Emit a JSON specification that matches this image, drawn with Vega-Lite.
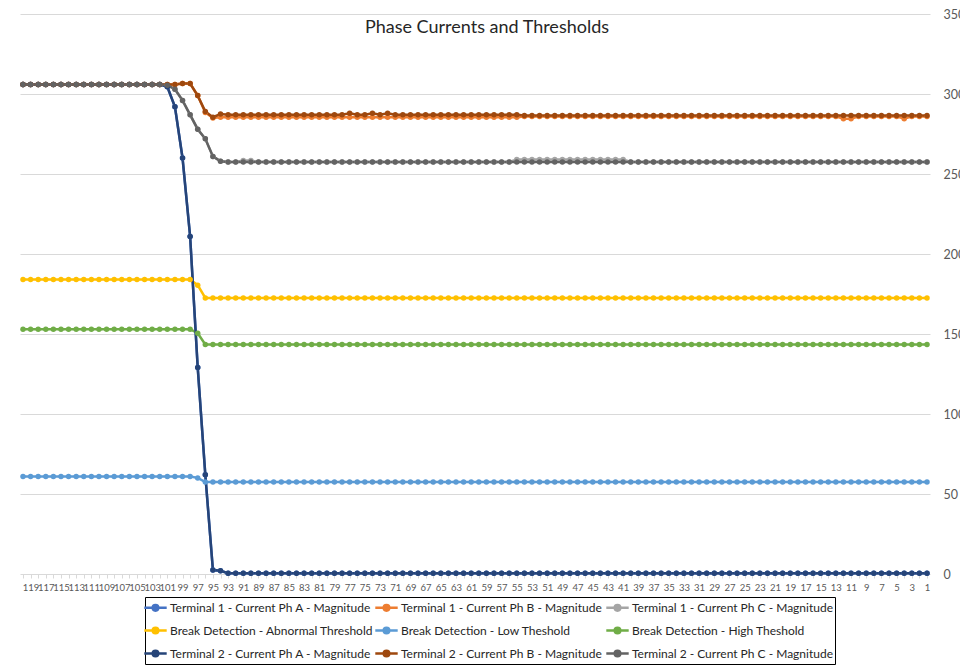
{
  "$schema": "https://vega.github.io/schema/vega-lite/v6.json",
  "width": 910,
  "height": 560,
  "autosize": {"type": "none"},
  "padding": {"left": 20, "top": 14, "right": 30, "bottom": 91},
  "background": "white",
  "title": {"text": "Phase Currents and Thresholds", "font": "Lato", "fontSize": 18, "fontWeight": "normal", "color": "#262626", "frame": "group", "anchor": "middle", "dx": 12, "baseline": "alphabetic", "offset": -43},
  "data": {"values": [
    {"c":120,"t1a":306,"t1b":306,"t1c":306,"bda":184,"bdl":61,"bdh":153,"t2a":306,"t2b":306,"t2c":306},
    {"c":119,"t1a":306,"t1b":306,"t1c":306,"bda":184,"bdl":61,"bdh":153,"t2a":306,"t2b":306,"t2c":306},
    {"c":118,"t1a":306,"t1b":306,"t1c":306,"bda":184,"bdl":61,"bdh":153,"t2a":306,"t2b":306,"t2c":306},
    {"c":117,"t1a":306,"t1b":306,"t1c":306,"bda":184,"bdl":61,"bdh":153,"t2a":306,"t2b":306,"t2c":306},
    {"c":116,"t1a":306,"t1b":306,"t1c":306,"bda":184,"bdl":61,"bdh":153,"t2a":306,"t2b":306,"t2c":306},
    {"c":115,"t1a":306,"t1b":306,"t1c":306,"bda":184,"bdl":61,"bdh":153,"t2a":306,"t2b":306,"t2c":306},
    {"c":114,"t1a":306,"t1b":306,"t1c":306,"bda":184,"bdl":61,"bdh":153,"t2a":306,"t2b":306,"t2c":306},
    {"c":113,"t1a":306,"t1b":306,"t1c":306,"bda":184,"bdl":61,"bdh":153,"t2a":306,"t2b":306,"t2c":306},
    {"c":112,"t1a":306,"t1b":306,"t1c":306,"bda":184,"bdl":61,"bdh":153,"t2a":306,"t2b":306,"t2c":306},
    {"c":111,"t1a":306,"t1b":306,"t1c":306,"bda":184,"bdl":61,"bdh":153,"t2a":306,"t2b":306,"t2c":306},
    {"c":110,"t1a":306,"t1b":306,"t1c":306,"bda":184,"bdl":61,"bdh":153,"t2a":306,"t2b":306,"t2c":306},
    {"c":109,"t1a":306,"t1b":306,"t1c":306,"bda":184,"bdl":61,"bdh":153,"t2a":306,"t2b":306,"t2c":306},
    {"c":108,"t1a":306,"t1b":306,"t1c":306,"bda":184,"bdl":61,"bdh":153,"t2a":306,"t2b":306,"t2c":306},
    {"c":107,"t1a":306,"t1b":306,"t1c":306,"bda":184,"bdl":61,"bdh":153,"t2a":306,"t2b":306,"t2c":306},
    {"c":106,"t1a":306,"t1b":306,"t1c":306,"bda":184,"bdl":61,"bdh":153,"t2a":306,"t2b":306,"t2c":306},
    {"c":105,"t1a":306,"t1b":306,"t1c":306,"bda":184,"bdl":61,"bdh":153,"t2a":306,"t2b":306,"t2c":306},
    {"c":104,"t1a":306,"t1b":306,"t1c":306,"bda":184,"bdl":61,"bdh":153,"t2a":306,"t2b":306,"t2c":306},
    {"c":103,"t1a":306,"t1b":306,"t1c":306,"bda":184,"bdl":61,"bdh":153,"t2a":306,"t2b":306,"t2c":306},
    {"c":102,"t1a":306,"t1b":306,"t1c":306,"bda":184,"bdl":61,"bdh":153,"t2a":306,"t2b":306,"t2c":306},
    {"c":101,"t1a":304.5,"t1b":306,"t1c":305.5,"bda":184,"bdl":61,"bdh":153,"t2a":304.5,"t2b":306,"t2c":305.5},
    {"c":100,"t1a":292,"t1b":306,"t1c":303,"bda":184,"bdl":61,"bdh":153,"t2a":292,"t2b":306,"t2c":303},
    {"c":99,"t1a":260,"t1b":306.5,"t1c":296,"bda":184,"bdl":61,"bdh":153,"t2a":260,"t2b":306.5,"t2c":296},
    {"c":98,"t1a":211,"t1b":306.5,"t1c":287,"bda":184,"bdl":61,"bdh":153,"t2a":211,"t2b":306.5,"t2c":287},
    {"c":97,"t1a":129,"t1b":299,"t1c":278,"bda":180.5,"bdl":60,"bdh":150.5,"t2a":129,"t2b":299,"t2c":278},
    {"c":96,"t1a":62,"t1b":288.5,"t1c":272,"bda":172.5,"bdl":57.5,"bdh":143.5,"t2a":62,"t2b":289,"t2c":272},
    {"c":95,"t1a":2.5,"t1b":285,"t1c":261,"bda":172.5,"bdl":57.5,"bdh":143.5,"t2a":2.5,"t2b":285.5,"t2c":261},
    {"c":94,"t1a":2,"t1b":285.5,"t1c":258,"bda":172.5,"bdl":57.5,"bdh":143.5,"t2a":2,"t2b":287.5,"t2c":258},
    {"c":93,"t1a":0.5,"t1b":285.5,"t1c":257.5,"bda":172.5,"bdl":57.5,"bdh":143.5,"t2a":0.5,"t2b":287,"t2c":257.5},
    {"c":92,"t1a":0.5,"t1b":285.5,"t1c":257.5,"bda":172.5,"bdl":57.5,"bdh":143.5,"t2a":0.5,"t2b":287,"t2c":257.5},
    {"c":91,"t1a":0.5,"t1b":285.5,"t1c":258.5,"bda":172.5,"bdl":57.5,"bdh":143.5,"t2a":0.5,"t2b":287,"t2c":257.5},
    {"c":90,"t1a":0.5,"t1b":285.5,"t1c":258.5,"bda":172.5,"bdl":57.5,"bdh":143.5,"t2a":0.5,"t2b":287,"t2c":257.5},
    {"c":89,"t1a":0.5,"t1b":285.5,"t1c":257.5,"bda":172.5,"bdl":57.5,"bdh":143.5,"t2a":0.5,"t2b":287,"t2c":257.5},
    {"c":88,"t1a":0.5,"t1b":285.5,"t1c":257.5,"bda":172.5,"bdl":57.5,"bdh":143.5,"t2a":0.5,"t2b":287,"t2c":257.5},
    {"c":87,"t1a":0.5,"t1b":285.5,"t1c":257.5,"bda":172.5,"bdl":57.5,"bdh":143.5,"t2a":0.5,"t2b":287,"t2c":257.5},
    {"c":86,"t1a":0.5,"t1b":285.5,"t1c":257.5,"bda":172.5,"bdl":57.5,"bdh":143.5,"t2a":0.5,"t2b":287,"t2c":257.5},
    {"c":85,"t1a":0.5,"t1b":285.5,"t1c":257.5,"bda":172.5,"bdl":57.5,"bdh":143.5,"t2a":0.5,"t2b":287,"t2c":257.5},
    {"c":84,"t1a":0.5,"t1b":285.5,"t1c":257.5,"bda":172.5,"bdl":57.5,"bdh":143.5,"t2a":0.5,"t2b":287,"t2c":257.5},
    {"c":83,"t1a":0.5,"t1b":285.5,"t1c":257.5,"bda":172.5,"bdl":57.5,"bdh":143.5,"t2a":0.5,"t2b":287,"t2c":257.5},
    {"c":82,"t1a":0.5,"t1b":285.5,"t1c":257.5,"bda":172.5,"bdl":57.5,"bdh":143.5,"t2a":0.5,"t2b":287,"t2c":257.5},
    {"c":81,"t1a":0.5,"t1b":285.5,"t1c":257.5,"bda":172.5,"bdl":57.5,"bdh":143.5,"t2a":0.5,"t2b":287,"t2c":257.5},
    {"c":80,"t1a":0.5,"t1b":285.5,"t1c":257.5,"bda":172.5,"bdl":57.5,"bdh":143.5,"t2a":0.5,"t2b":287,"t2c":257.5},
    {"c":79,"t1a":0.5,"t1b":285.5,"t1c":257.5,"bda":172.5,"bdl":57.5,"bdh":143.5,"t2a":0.5,"t2b":287,"t2c":257.5},
    {"c":78,"t1a":0.5,"t1b":285.5,"t1c":257.5,"bda":172.5,"bdl":57.5,"bdh":143.5,"t2a":0.5,"t2b":287,"t2c":257.5},
    {"c":77,"t1a":0.5,"t1b":285.5,"t1c":257.5,"bda":172.5,"bdl":57.5,"bdh":143.5,"t2a":0.5,"t2b":288,"t2c":257.5},
    {"c":76,"t1a":0.5,"t1b":285.5,"t1c":257.5,"bda":172.5,"bdl":57.5,"bdh":143.5,"t2a":0.5,"t2b":287,"t2c":257.5},
    {"c":75,"t1a":0.5,"t1b":285.5,"t1c":257.5,"bda":172.5,"bdl":57.5,"bdh":143.5,"t2a":0.5,"t2b":287,"t2c":257.5},
    {"c":74,"t1a":0.5,"t1b":285.5,"t1c":257.5,"bda":172.5,"bdl":57.5,"bdh":143.5,"t2a":0.5,"t2b":288,"t2c":257.5},
    {"c":73,"t1a":0.5,"t1b":285.5,"t1c":257.5,"bda":172.5,"bdl":57.5,"bdh":143.5,"t2a":0.5,"t2b":287,"t2c":257.5},
    {"c":72,"t1a":0.5,"t1b":285.5,"t1c":257.5,"bda":172.5,"bdl":57.5,"bdh":143.5,"t2a":0.5,"t2b":288,"t2c":257.5},
    {"c":71,"t1a":0.5,"t1b":285.5,"t1c":257.5,"bda":172.5,"bdl":57.5,"bdh":143.5,"t2a":0.5,"t2b":287,"t2c":257.5},
    {"c":70,"t1a":0.5,"t1b":285.5,"t1c":257.5,"bda":172.5,"bdl":57.5,"bdh":143.5,"t2a":0.5,"t2b":287,"t2c":257.5},
    {"c":69,"t1a":0.5,"t1b":285.5,"t1c":257.5,"bda":172.5,"bdl":57.5,"bdh":143.5,"t2a":0.5,"t2b":287,"t2c":257.5},
    {"c":68,"t1a":0.5,"t1b":285.5,"t1c":257.5,"bda":172.5,"bdl":57.5,"bdh":143.5,"t2a":0.5,"t2b":287,"t2c":257.5},
    {"c":67,"t1a":0.5,"t1b":285.5,"t1c":257.5,"bda":172.5,"bdl":57.5,"bdh":143.5,"t2a":0.5,"t2b":287,"t2c":257.5},
    {"c":66,"t1a":0.5,"t1b":285.5,"t1c":257.5,"bda":172.5,"bdl":57.5,"bdh":143.5,"t2a":0.5,"t2b":287,"t2c":257.5},
    {"c":65,"t1a":0.5,"t1b":285.5,"t1c":257.5,"bda":172.5,"bdl":57.5,"bdh":143.5,"t2a":0.5,"t2b":287,"t2c":257.5},
    {"c":64,"t1a":0.5,"t1b":285.5,"t1c":257.5,"bda":172.5,"bdl":57.5,"bdh":143.5,"t2a":0.5,"t2b":287,"t2c":257.5},
    {"c":63,"t1a":0.5,"t1b":285.5,"t1c":257.5,"bda":172.5,"bdl":57.5,"bdh":143.5,"t2a":0.5,"t2b":287,"t2c":257.5},
    {"c":62,"t1a":0.5,"t1b":285.5,"t1c":257.5,"bda":172.5,"bdl":57.5,"bdh":143.5,"t2a":0.5,"t2b":287,"t2c":257.5},
    {"c":61,"t1a":0.5,"t1b":285.5,"t1c":257.5,"bda":172.5,"bdl":57.5,"bdh":143.5,"t2a":0.5,"t2b":287,"t2c":257.5},
    {"c":60,"t1a":0.5,"t1b":285.5,"t1c":257.5,"bda":172.5,"bdl":57.5,"bdh":143.5,"t2a":0.5,"t2b":287,"t2c":257.5},
    {"c":59,"t1a":0.5,"t1b":285.5,"t1c":257.5,"bda":172.5,"bdl":57.5,"bdh":143.5,"t2a":0.5,"t2b":287,"t2c":257.5},
    {"c":58,"t1a":0.5,"t1b":285.5,"t1c":257.5,"bda":172.5,"bdl":57.5,"bdh":143.5,"t2a":0.5,"t2b":287,"t2c":257.5},
    {"c":57,"t1a":0.5,"t1b":285.5,"t1c":257.5,"bda":172.5,"bdl":57.5,"bdh":143.5,"t2a":0.5,"t2b":287,"t2c":257.5},
    {"c":56,"t1a":0.5,"t1b":285.5,"t1c":257.5,"bda":172.5,"bdl":57.5,"bdh":143.5,"t2a":0.5,"t2b":287,"t2c":257.5},
    {"c":55,"t1a":0.5,"t1b":285.5,"t1c":259,"bda":172.5,"bdl":57.5,"bdh":143.5,"t2a":0.5,"t2b":287,"t2c":257.5},
    {"c":54,"t1a":0.5,"t1b":286,"t1c":259,"bda":172.5,"bdl":57.5,"bdh":143.5,"t2a":0.5,"t2b":286.5,"t2c":257.5},
    {"c":53,"t1a":0.5,"t1b":286,"t1c":259,"bda":172.5,"bdl":57.5,"bdh":143.5,"t2a":0.5,"t2b":286.5,"t2c":257.5},
    {"c":52,"t1a":0.5,"t1b":286,"t1c":259,"bda":172.5,"bdl":57.5,"bdh":143.5,"t2a":0.5,"t2b":286.5,"t2c":257.5},
    {"c":51,"t1a":0.5,"t1b":286,"t1c":259,"bda":172.5,"bdl":57.5,"bdh":143.5,"t2a":0.5,"t2b":286.5,"t2c":257.5},
    {"c":50,"t1a":0.5,"t1b":286,"t1c":259,"bda":172.5,"bdl":57.5,"bdh":143.5,"t2a":0.5,"t2b":286.5,"t2c":257.5},
    {"c":49,"t1a":0.5,"t1b":286,"t1c":259,"bda":172.5,"bdl":57.5,"bdh":143.5,"t2a":0.5,"t2b":286.5,"t2c":257.5},
    {"c":48,"t1a":0.5,"t1b":286,"t1c":259,"bda":172.5,"bdl":57.5,"bdh":143.5,"t2a":0.5,"t2b":286.5,"t2c":257.5},
    {"c":47,"t1a":0.5,"t1b":286,"t1c":259,"bda":172.5,"bdl":57.5,"bdh":143.5,"t2a":0.5,"t2b":286.5,"t2c":257.5},
    {"c":46,"t1a":0.5,"t1b":286,"t1c":259,"bda":172.5,"bdl":57.5,"bdh":143.5,"t2a":0.5,"t2b":286.5,"t2c":257.5},
    {"c":45,"t1a":0.5,"t1b":286,"t1c":259,"bda":172.5,"bdl":57.5,"bdh":143.5,"t2a":0.5,"t2b":286.5,"t2c":257.5},
    {"c":44,"t1a":0.5,"t1b":286,"t1c":259,"bda":172.5,"bdl":57.5,"bdh":143.5,"t2a":0.5,"t2b":286.5,"t2c":257.5},
    {"c":43,"t1a":0.5,"t1b":286,"t1c":259,"bda":172.5,"bdl":57.5,"bdh":143.5,"t2a":0.5,"t2b":286.5,"t2c":257.5},
    {"c":42,"t1a":0.5,"t1b":286,"t1c":259,"bda":172.5,"bdl":57.5,"bdh":143.5,"t2a":0.5,"t2b":286.5,"t2c":257.5},
    {"c":41,"t1a":0.5,"t1b":286,"t1c":259,"bda":172.5,"bdl":57.5,"bdh":143.5,"t2a":0.5,"t2b":286.5,"t2c":257.5},
    {"c":40,"t1a":0.5,"t1b":286,"t1c":257.5,"bda":172.5,"bdl":57.5,"bdh":143.5,"t2a":0.5,"t2b":286.5,"t2c":257.5},
    {"c":39,"t1a":0.5,"t1b":286,"t1c":257.5,"bda":172.5,"bdl":57.5,"bdh":143.5,"t2a":0.5,"t2b":286.5,"t2c":257.5},
    {"c":38,"t1a":0.5,"t1b":286,"t1c":257.5,"bda":172.5,"bdl":57.5,"bdh":143.5,"t2a":0.5,"t2b":286.5,"t2c":257.5},
    {"c":37,"t1a":0.5,"t1b":286,"t1c":257.5,"bda":172.5,"bdl":57.5,"bdh":143.5,"t2a":0.5,"t2b":286.5,"t2c":257.5},
    {"c":36,"t1a":0.5,"t1b":286,"t1c":257.5,"bda":172.5,"bdl":57.5,"bdh":143.5,"t2a":0.5,"t2b":286.5,"t2c":257.5},
    {"c":35,"t1a":0.5,"t1b":286,"t1c":257.5,"bda":172.5,"bdl":57.5,"bdh":143.5,"t2a":0.5,"t2b":286.5,"t2c":257.5},
    {"c":34,"t1a":0.5,"t1b":286,"t1c":257.5,"bda":172.5,"bdl":57.5,"bdh":143.5,"t2a":0.5,"t2b":286.5,"t2c":257.5},
    {"c":33,"t1a":0.5,"t1b":286,"t1c":257.5,"bda":172.5,"bdl":57.5,"bdh":143.5,"t2a":0.5,"t2b":286.5,"t2c":257.5},
    {"c":32,"t1a":0.5,"t1b":286,"t1c":257.5,"bda":172.5,"bdl":57.5,"bdh":143.5,"t2a":0.5,"t2b":286.5,"t2c":257.5},
    {"c":31,"t1a":0.5,"t1b":286,"t1c":257.5,"bda":172.5,"bdl":57.5,"bdh":143.5,"t2a":0.5,"t2b":286.5,"t2c":257.5},
    {"c":30,"t1a":0.5,"t1b":286,"t1c":257.5,"bda":172.5,"bdl":57.5,"bdh":143.5,"t2a":0.5,"t2b":286.5,"t2c":257.5},
    {"c":29,"t1a":0.5,"t1b":286,"t1c":257.5,"bda":172.5,"bdl":57.5,"bdh":143.5,"t2a":0.5,"t2b":286.5,"t2c":257.5},
    {"c":28,"t1a":0.5,"t1b":286,"t1c":257.5,"bda":172.5,"bdl":57.5,"bdh":143.5,"t2a":0.5,"t2b":286.5,"t2c":257.5},
    {"c":27,"t1a":0.5,"t1b":286,"t1c":257.5,"bda":172.5,"bdl":57.5,"bdh":143.5,"t2a":0.5,"t2b":286.5,"t2c":257.5},
    {"c":26,"t1a":0.5,"t1b":286,"t1c":257.5,"bda":172.5,"bdl":57.5,"bdh":143.5,"t2a":0.5,"t2b":286.5,"t2c":257.5},
    {"c":25,"t1a":0.5,"t1b":286,"t1c":257.5,"bda":172.5,"bdl":57.5,"bdh":143.5,"t2a":0.5,"t2b":286.5,"t2c":257.5},
    {"c":24,"t1a":0.5,"t1b":286,"t1c":257.5,"bda":172.5,"bdl":57.5,"bdh":143.5,"t2a":0.5,"t2b":286.5,"t2c":257.5},
    {"c":23,"t1a":0.5,"t1b":286,"t1c":257.5,"bda":172.5,"bdl":57.5,"bdh":143.5,"t2a":0.5,"t2b":286.5,"t2c":257.5},
    {"c":22,"t1a":0.5,"t1b":286,"t1c":257.5,"bda":172.5,"bdl":57.5,"bdh":143.5,"t2a":0.5,"t2b":286.5,"t2c":257.5},
    {"c":21,"t1a":0.5,"t1b":286,"t1c":257.5,"bda":172.5,"bdl":57.5,"bdh":143.5,"t2a":0.5,"t2b":286.5,"t2c":257.5},
    {"c":20,"t1a":0.5,"t1b":286,"t1c":257.5,"bda":172.5,"bdl":57.5,"bdh":143.5,"t2a":0.5,"t2b":286.5,"t2c":257.5},
    {"c":19,"t1a":0.5,"t1b":286,"t1c":257.5,"bda":172.5,"bdl":57.5,"bdh":143.5,"t2a":0.5,"t2b":286.5,"t2c":257.5},
    {"c":18,"t1a":0.5,"t1b":286,"t1c":257.5,"bda":172.5,"bdl":57.5,"bdh":143.5,"t2a":0.5,"t2b":286.5,"t2c":257.5},
    {"c":17,"t1a":0.5,"t1b":286,"t1c":257.5,"bda":172.5,"bdl":57.5,"bdh":143.5,"t2a":0.5,"t2b":286.5,"t2c":257.5},
    {"c":16,"t1a":0.5,"t1b":286,"t1c":257.5,"bda":172.5,"bdl":57.5,"bdh":143.5,"t2a":0.5,"t2b":286.5,"t2c":257.5},
    {"c":15,"t1a":0.5,"t1b":286,"t1c":257.5,"bda":172.5,"bdl":57.5,"bdh":143.5,"t2a":0.5,"t2b":286.5,"t2c":257.5},
    {"c":14,"t1a":0.5,"t1b":286,"t1c":257.5,"bda":172.5,"bdl":57.5,"bdh":143.5,"t2a":0.5,"t2b":286.5,"t2c":257.5},
    {"c":13,"t1a":0.5,"t1b":286,"t1c":257.5,"bda":172.5,"bdl":57.5,"bdh":143.5,"t2a":0.5,"t2b":286.5,"t2c":257.5},
    {"c":12,"t1a":0.5,"t1b":284.5,"t1c":257.5,"bda":172.5,"bdl":57.5,"bdh":143.5,"t2a":0.5,"t2b":286.5,"t2c":257.5},
    {"c":11,"t1a":0.5,"t1b":284.5,"t1c":257.5,"bda":172.5,"bdl":57.5,"bdh":143.5,"t2a":0.5,"t2b":286.5,"t2c":257.5},
    {"c":10,"t1a":0.5,"t1b":286,"t1c":257.5,"bda":172.5,"bdl":57.5,"bdh":143.5,"t2a":0.5,"t2b":286.5,"t2c":257.5},
    {"c":9,"t1a":0.5,"t1b":286,"t1c":257.5,"bda":172.5,"bdl":57.5,"bdh":143.5,"t2a":0.5,"t2b":286.5,"t2c":257.5},
    {"c":8,"t1a":0.5,"t1b":286,"t1c":257.5,"bda":172.5,"bdl":57.5,"bdh":143.5,"t2a":0.5,"t2b":286.5,"t2c":257.5},
    {"c":7,"t1a":0.5,"t1b":286,"t1c":257.5,"bda":172.5,"bdl":57.5,"bdh":143.5,"t2a":0.5,"t2b":286.5,"t2c":257.5},
    {"c":6,"t1a":0.5,"t1b":286,"t1c":257.5,"bda":172.5,"bdl":57.5,"bdh":143.5,"t2a":0.5,"t2b":286.5,"t2c":257.5},
    {"c":5,"t1a":0.5,"t1b":286,"t1c":257.5,"bda":172.5,"bdl":57.5,"bdh":143.5,"t2a":0.5,"t2b":286.5,"t2c":257.5},
    {"c":4,"t1a":0.5,"t1b":284.5,"t1c":257.5,"bda":172.5,"bdl":57.5,"bdh":143.5,"t2a":0.5,"t2b":286.5,"t2c":257.5},
    {"c":3,"t1a":0.5,"t1b":286,"t1c":257.5,"bda":172.5,"bdl":57.5,"bdh":143.5,"t2a":0.5,"t2b":286.5,"t2c":257.5},
    {"c":2,"t1a":0.5,"t1b":286,"t1c":257.5,"bda":172.5,"bdl":57.5,"bdh":143.5,"t2a":0.5,"t2b":286.5,"t2c":257.5},
    {"c":1,"t1a":0.5,"t1b":286,"t1c":257.5,"bda":172.5,"bdl":57.5,"bdh":143.5,"t2a":0.5,"t2b":286.5,"t2c":257.5}
  ]},
  "transform": [
    {"fold": ["t1a","t1b","t1c","bda","bdl","bdh","t2a","t2b","t2c"], "as": ["series","value"]}
  ],
  "mark": {"type": "line", "strokeWidth": 2.5, "point": {"filled": true, "size": 30}},
  "encoding": {
    "x": {
      "field": "c", "type": "quantitative",
      "scale": {"domain": [1,120], "reverse": true, "nice": false, "zero": false, "padding": 3},
      "axis": {
        "title": null, "grid": false, "domain": false,
        "values": [1,2,3,4,5,6,7,8,9,10,11,12,13,14,15,16,17,18,19,20,21,22,23,24,25,26,27,28,29,30,31,32,33,34,35,36,37,38,39,40,41,42,43,44,45,46,47,48,49,50,51,52,53,54,55,56,57,58,59,60,61,62,63,64,65,66,67,68,69,70,71,72,73,74,75,76,77,78,79,80,81,82,83,84,85,86,87,88,89,90,91,92,93,94,95,96,97,98,99,100,101,102,103,104,105,106,107,108,109,110,111,112,113,114,115,116,117,118,119,120],
        "labelExpr": "datum.value % 2 == 1 ? datum.label : ''",
        "labelOverlap": false, "labelAngle": 0, "labelFlush": false,
        "labelFont": "Lato", "labelFontSize": 9.5, "labelColor": "#595959", "labelPadding": 4,
        "tickColor": "#D9D9D9", "tickSize": 4, "tickWidth": 1
      }
    },
    "y": {
      "field": "value", "type": "quantitative",
      "scale": {"domain": [0,350], "nice": false},
      "axis": {
        "title": null, "orient": "right", "values": [0,50,100,150,200,250,300,350],
        "grid": true, "gridColor": "#D9D9D9", "gridWidth": 1,
        "domain": false, "ticks": false, "labelPadding": 13,
        "labelFont": "Lato", "labelFontSize": 12.5, "labelColor": "#595959"
      }
    },
    "color": {
      "field": "series", "type": "nominal",
      "scale": {
        "domain": ["t1a","t1b","t1c","bda","bdl","bdh","t2a","t2b","t2c"],
        "range": ["#4472C4","#ED7D31","#A5A5A5","#FFC000","#5B9BD5","#70AD47","#264478","#9E480E","#636363"]
      },
      "legend": {
        "title": null, "orient": "none", "legendX": 125, "legendY": 583,
        "direction": "horizontal", "columns": 3, "columnPadding": -4, "rowPadding": 6, "gridAlign": "all",
        "strokeColor": "#000000", "padding": 2,
        "symbolType": "M-1.6,0L1.6,0M-0.4,0A0.4,0.4 0 1,0 0.4,0A0.4,0.4 0 1,0 -0.4,0Z",
        "symbolSize": 196, "symbolStrokeWidth": 2.5, "symbolOffset": 0,
        "labelFont": "Lato", "labelFontSize": 12, "labelColor": "#262626", "labelLimit": 400, "labelOffset": 6,
        "labelExpr": "{'t1a':'Terminal 1 - Current Ph A - Magnitude','t1b':'Terminal 1 - Current Ph B - Magnitude','t1c':'Terminal 1 - Current Ph C - Magnitude','bda':'Break Detection - Abnormal Threshold','bdl':'Break Detection - Low Theshold','bdh':'Break Detection - High Theshold','t2a':'Terminal 2 - Current Ph A - Magnitude','t2b':'Terminal 2 - Current Ph B - Magnitude','t2c':'Terminal 2 - Current Ph C - Magnitude'}[datum.label]",
        "encode": {"symbols": {"update": {"fill": {"field": "value", "scale": "color"}}}}
      }
    }
  },
  "config": {"view": {"stroke": null}}
}
